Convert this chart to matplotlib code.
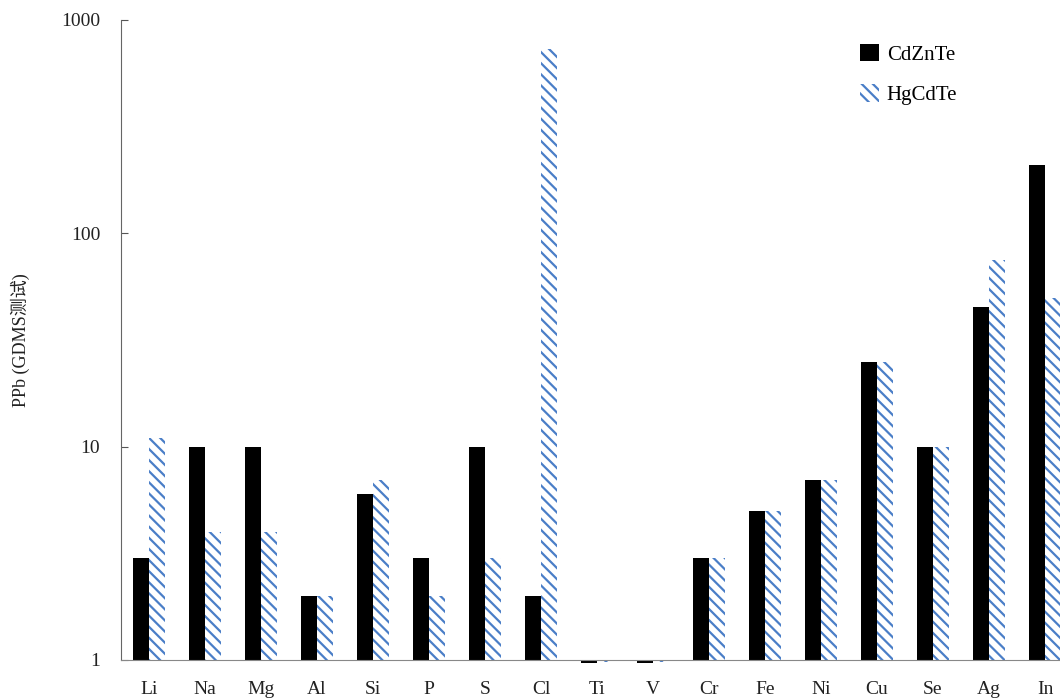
import numpy as np
import matplotlib
matplotlib.use('Agg')
import matplotlib.pyplot as plt
from matplotlib.ticker import FixedLocator, NullLocator

plt.rcParams['font.family'] = ['Liberation Serif', 'Noto Sans CJK SC']
plt.rcParams['hatch.linewidth'] = 1.6

elements = ['Li', 'Na', 'Mg', 'Al', 'Si', 'P', 'S', 'Cl', 'Ti', 'V',
            'Cr', 'Fe', 'Ni', 'Cu', 'Se', 'Ag', 'In']
cdznte = [3, 10, 10, 2, 6, 3, 10, 2, 0.97, 0.97, 3, 5, 7, 25, 10, 45, 210]
hgcdte = [11, 4, 4, 2, 7, 2, 3, 730, 0.98, 0.98, 3, 5, 7, 25, 10, 75, 50]
yticks = [1, 10, 100, 1000]

blue = '#4A7EC7'

fig = plt.figure(figsize=(10.6, 6.98), dpi=100)
# axes runs off the right edge like the original screenshot
ax = fig.add_axes([121/1060, 38/698, 952/1060, 640/698])

x = np.arange(len(elements))
w = 0.29
base = 1
ax.bar(x - w/2, np.array(cdznte) - base, w, bottom=base, color='black',
       label='CdZnTe', clip_on=False)
ax.bar(x + w/2, np.array(hgcdte) - base, w, bottom=base, color='white',
       edgecolor=blue, linewidth=0, hatch='\\\\\\', label='HgCdTe', clip_on=False)

ax.set_yscale('log')
ax.set_ylim(1, 1000)
ax.set_xlim(-0.5, len(elements) - 0.5)
ax.yaxis.set_major_locator(FixedLocator(yticks))
ax.yaxis.set_minor_locator(NullLocator())
ax.set_yticklabels([str(t) for t in yticks])
ax.set_xticks(x)
ax.set_xticklabels(elements)
ax.tick_params(axis='y', direction='in', length=5, width=0.8, labelsize=14,
               colors='#555555', labelcolor='#222222', pad=15)
ax.tick_params(axis='x', length=0, labelsize=14, pad=15, labelcolor='#222222')

ax.spines['top'].set_visible(False)
ax.spines['right'].set_visible(False)
ax.spines['left'].set_color('#666666')
ax.spines['bottom'].set_color('#888888')

ax.set_ylabel('PPb (GDMS测试)', fontsize=13, labelpad=22, color='#222222')

ax.legend(loc='upper left', bbox_to_anchor=(841/1060, 1 - 25/698),
          bbox_transform=fig.transFigure, frameon=False, fontsize=15,
          handlelength=0.9, handleheight=0.9, labelspacing=0.95, handletextpad=0.4)

fig.savefig('out.png', dpi=100)
